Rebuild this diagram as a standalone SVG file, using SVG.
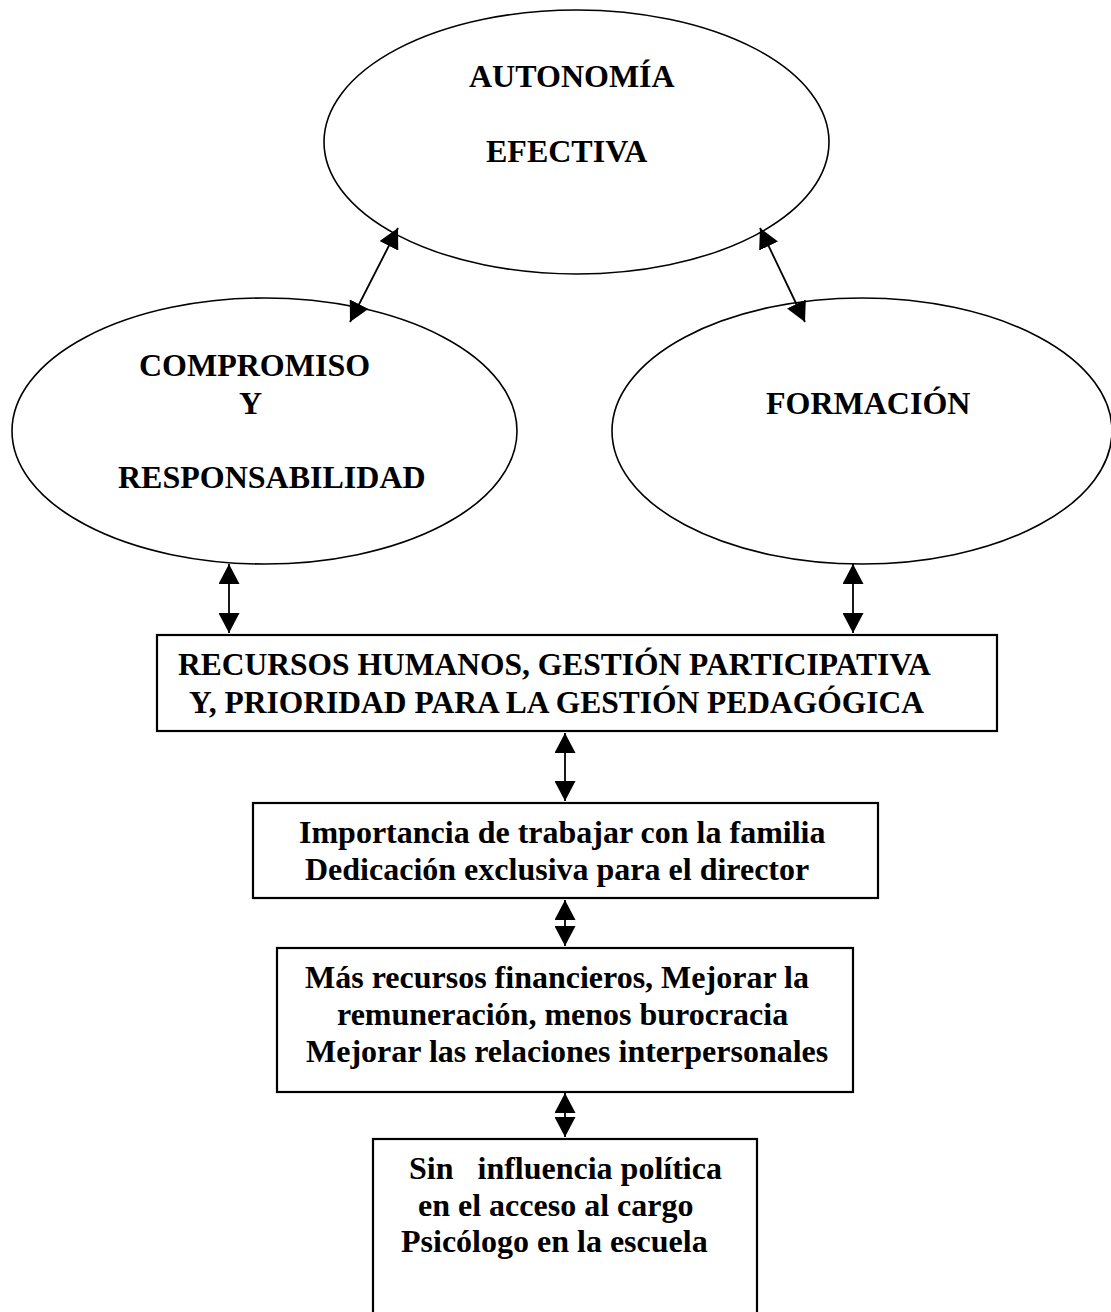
<svg xmlns="http://www.w3.org/2000/svg" width="1111" height="1312" viewBox="0 0 1111 1312">
<style>
  .shape { fill: #ffffff; stroke: #000000; }
  .ell { stroke-width: 1.6; }
  .box { stroke-width: 2.2; }
  .t { font-family: "Liberation Serif", "Times New Roman", serif; font-weight: bold; fill: #000000; white-space: pre; }
  .big { font-size: 32px; }
  .mid { font-size: 31.5px; }
  .conn { stroke: #000000; stroke-width: 1.8; fill: none; marker-start: url(#ah); marker-end: url(#ah); }
</style>
<defs>
  <marker id="ah" markerUnits="userSpaceOnUse" markerWidth="20" markerHeight="21" refX="20" refY="10.5" orient="auto-start-reverse" viewBox="0 0 20 21">
    <path d="M0,0 L20,10.5 L0,21 Z" fill="#000000"/>
  </marker>
</defs>
<rect width="1111" height="1312" fill="#ffffff"/>

<g id="node-autonomia">
  <ellipse class="shape ell" cx="576.5" cy="142" rx="252.5" ry="132"/>
  <text class="t big" x="469" y="87">AUTONOMÍA</text>
  <text class="t big" x="486" y="162">EFECTIVA</text>
</g>

<g id="node-compromiso">
  <ellipse class="shape ell" cx="264.5" cy="431" rx="252.5" ry="133"/>
  <text class="t big" x="139" y="376">COMPROMISO</text>
  <text class="t big" x="239" y="414">Y</text>
  <text class="t big" x="118" y="488">RESPONSABILIDAD</text>
</g>

<g id="node-formacion">
  <ellipse class="shape ell" cx="862" cy="431" rx="250" ry="133"/>
  <text class="t big" x="766" y="414">FORMACIÓN</text>
</g>

<g id="node-recursos">
  <rect class="shape box" x="157" y="635" width="840" height="96"/>
  <text class="t mid" x="178" y="675">RECURSOS HUMANOS, GESTIÓN PARTICIPATIVA</text>
  <text class="t mid" x="189" y="713">Y, PRIORIDAD PARA LA GESTIÓN PEDAGÓGICA</text>
</g>

<g id="node-familia">
  <rect class="shape box" x="253" y="803" width="625" height="95"/>
  <text class="t big" x="299" y="843">Importancia de trabajar con la familia</text>
  <text class="t big" x="305" y="880">Dedicación exclusiva para el director</text>
</g>

<g id="node-financieros">
  <rect class="shape box" x="277" y="948" width="576" height="144"/>
  <text class="t big" x="305" y="988">Más recursos financieros, Mejorar la</text>
  <text class="t big" x="337" y="1025">remuneración, menos burocracia</text>
  <text class="t big" x="306" y="1062">Mejorar las relaciones interpersonales</text>
</g>

<g id="node-politica">
  <rect class="shape box" x="373" y="1139" width="384" height="190"/>
  <text class="t big" x="409" y="1179">Sin   influencia política</text>
  <text class="t big" x="418" y="1216">en el acceso al cargo</text>
  <text class="t big" x="401" y="1252">Psicólogo en la escuela</text>
</g>

<g id="connectors">
  <line class="conn" x1="398" y1="228" x2="350" y2="322"/>
  <line class="conn" x1="760" y1="228" x2="805" y2="322"/>
  <line class="conn" x1="229" y1="564" x2="229" y2="633"/>
  <line class="conn" x1="853" y1="564" x2="853" y2="633"/>
  <line class="conn" x1="565" y1="733" x2="565" y2="801"/>
  <line class="conn" x1="565" y1="900" x2="565" y2="946"/>
  <line class="conn" x1="565" y1="1093" x2="565" y2="1137"/>
</g>
</svg>
